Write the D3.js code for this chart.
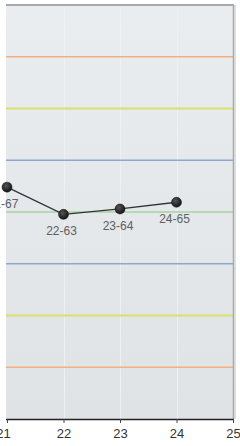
<!DOCTYPE html>
<html>
<head>
<meta charset="utf-8">
<script src="https://cdn.jsdelivr.net/npm/d3@7"></script>
<style>
  html, body { margin: 0; padding: 0; background: #fff; }
  svg { display: block; font-family: "Liberation Sans", Arial, sans-serif; }
</style>
</head>
<body>
<div id="chart"></div>
<script>
(function () {
  // --- data ---
  const xValues = [21, 22, 23, 24];
  const yValues = [67.0, 62.95, 63.75, 64.75];
  const xTicks = [21, 22, 23, 24, 25];

  // control limits: mean +/- k sigma
  const mean = 63.3;
  const sigma = 7.7;
  const sigmaSteps = [-3, -2, -1, 0, 1, 2, 3];
  const limitColors = ["#f2b07e", "#dbdd6c", "#8ea7cd", "#a6d6a0", "#8ea7cd", "#dbdd6c", "#f2b07e"];

  const width = 240, height = 446;
  const plot = { left: 6, right: 233, top: 5, bottom: 419 };

  const svg = d3.select("#chart").append("svg")
    .attr("width", width)
    .attr("height", height);

  const defs = svg.append("defs");
  const bg = defs.append("linearGradient")
    .attr("id", "bg").attr("x1", 0).attr("y1", 0).attr("x2", 0).attr("y2", 1);
  bg.append("stop").attr("offset", "0%").attr("stop-color", "#e9edf0");
  bg.append("stop").attr("offset", "100%").attr("stop-color", "#dfe3e6");

  const dot = defs.append("radialGradient")
    .attr("id", "dot").attr("cx", "40%").attr("cy", "35%").attr("r", "65%");
  dot.append("stop").attr("offset", "0%").attr("stop-color", "#555");
  dot.append("stop").attr("offset", "100%").attr("stop-color", "#141414");

  const x = d3.scaleLinear().domain([21, 25]).range([7, plot.right]);
  const y = d3.scaleLinear()
    .domain([mean - 4 * sigma, mean + 4 * sigma])
    .range([plot.bottom, plot.top]);

  // plot background
  svg.append("rect")
    .attr("x", plot.left).attr("y", plot.top)
    .attr("width", plot.right - plot.left)
    .attr("height", plot.bottom - plot.top)
    .attr("fill", "url(#bg)");

  // vertical grid (very faint)
  svg.append("g")
    .selectAll("line")
    .data(xTicks.slice(1, -1))
    .join("line")
    .attr("x1", d => Math.round(x(d)) + 0.5).attr("x2", d => Math.round(x(d)) + 0.5)
    .attr("y1", plot.top).attr("y2", plot.bottom)
    .attr("stroke", "#eef0f2")
    .attr("stroke-width", 1);

  // control lines
  svg.append("g")
    .selectAll("line")
    .data(sigmaSteps)
    .join("line")
    .attr("x1", plot.left).attr("x2", plot.right)
    .attr("y1", d => y(mean + d * sigma)).attr("y2", d => y(mean + d * sigma))
    .attr("stroke", (d, i) => limitColors[i])
    .attr("stroke-width", d => Math.abs(d) === 2 ? 2 : 1.5);

  // frame: top and right border
  svg.append("line")
    .attr("x1", plot.left).attr("x2", plot.right + 1)
    .attr("y1", plot.top).attr("y2", plot.top)
    .attr("stroke", "#a9a9a9").attr("stroke-width", 2);
  svg.append("line")
    .attr("x1", plot.right + 0.5).attr("x2", plot.right + 0.5)
    .attr("y1", plot.top).attr("y2", plot.bottom)
    .attr("stroke", "#a9a9a9").attr("stroke-width", 1.5);
  svg.append("line")
    .attr("x1", plot.right + 2).attr("x2", plot.right + 2)
    .attr("y1", plot.top).attr("y2", plot.bottom)
    .attr("stroke", "#d4d4d4").attr("stroke-width", 1.5);

  // x axis
  const axis = svg.append("g")
    .attr("transform", `translate(0,${plot.bottom})`)
    .call(d3.axisBottom(x).tickValues(xTicks).tickFormat(d3.format("d")).tickSize(4).tickPadding(6));
  axis.select(".domain")
    .attr("d", `M${plot.left},0.5H${plot.right + 1}`)
    .attr("stroke", "#222").attr("stroke-width", 1.5);
  axis.selectAll(".tick line").attr("stroke", "#444");
  axis.selectAll(".tick text")
    .attr("fill", "#333")
    .attr("dx", d => d === 21 ? -4 : 0)
    .style("font-size", "13px")
    .style("font-family", "Liberation Sans, Arial, sans-serif");

  // series line
  const pts = xValues.map((d, i) => [d, yValues[i]]);
  svg.append("path")
    .datum(pts)
    .attr("fill", "none")
    .attr("stroke", "#333")
    .attr("stroke-width", 1.3)
    .attr("d", d3.line().x(d => x(d[0])).y(d => y(d[1])));

  // points
  svg.append("g")
    .selectAll("circle")
    .data(pts)
    .join("circle")
    .attr("cx", d => x(d[0])).attr("cy", d => y(d[1]))
    .attr("r", 5)
    .attr("fill", "url(#dot)")
    .attr("stroke", "#111")
    .attr("stroke-width", 0.5);

  // point labels
  svg.append("g")
    .attr("text-anchor", "middle")
    .selectAll("text")
    .data(pts)
    .join("text")
    .attr("x", d => x(d[0]) - (d[0] === 21 ? 4 : 2))
    .attr("y", d => y(d[1]) + 21)
    .attr("fill", "#606060")
    .style("font-size", "12px")
    .text(d => `${d[0]}-${Math.round(d[1])}`);
})();
</script>
</body>
</html>
